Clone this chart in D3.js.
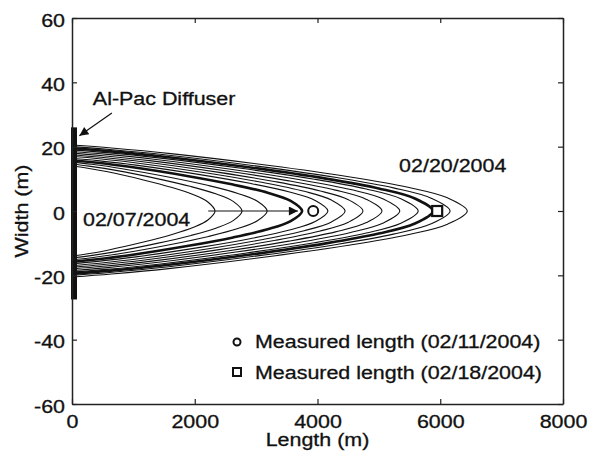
<!DOCTYPE html>
<html>
<head>
<meta charset="utf-8">
<script src="https://cdn.jsdelivr.net/npm/d3@7"></script>
<style>
  body { margin: 0; background: #fff; }
  text { font-family: "Liberation Sans", Arial, sans-serif; fill: #111; stroke: #111; stroke-width: 0.3px; }
</style>
</head>
<body>
<div class="chart"></div>
<script>
// plume outlines downstream of the diffuser, one per date

// tip length (m) of each contour, inner to outer
const tipLengths = [2330, 2770, 3180, 3750, 4170, 4450, 4740, 5050, 5340, 5640, 5880, 6160, 6440];
// half width (m) of each contour at the diffuser
const startWidths = [14.0, 14.6, 15.2, 15.8, 16.4, 17.0, 17.5, 18.0, 18.5, 19.0, 19.5, 20.0, 20.5];
// which contours are drawn heavy (02/07 and 02/18)
const boldCurves = [3, 10];

// shape of a contour: fraction of tip length vs fraction of start width
const profileX = [0, 0.1, 0.25, 0.5, 0.7, 0.85, 0.95, 1];
const profileW = [1, 0.955, 0.87, 0.69, 0.52, 0.36, 0.2, 0];

// measured plume lengths
const measuredDates = ['02/11/2004', '02/18/2004'];
const measuredLengths = [3930, 5950];

const xTicks = [0, 2000, 4000, 6000, 8000];
const yTicks = [-60, -40, -20, 0, 20, 40, 60];

const diffuserHalfWidth = 26;

const width = 589;
const height = 459;
const margin = {top: 18, right: 26, bottom: 55, left: 72};
const fontSize = 18;
const stretchFactor = 1.19;

const svg = d3.select('.chart')
  .append('svg')
  .attr('width', width)
  .attr('height', height);

const x = d3.scaleLinear().domain([0, 8000]).range([margin.left, width - margin.right]);
const y = d3.scaleLinear().domain([-60, 60]).range([height - margin.bottom, margin.top]);

const defs = svg.append('defs');
defs.append('marker')
  .attr('id', 'head')
  .attr('viewBox', '0 0 10 10')
  .attr('refX', 10)
  .attr('refY', 5)
  .attr('markerUnits', 'userSpaceOnUse')
  .attr('markerWidth', 12)
  .attr('markerHeight', 9)
  .attr('orient', 'auto')
  .append('path')
    .attr('d', 'M0,0 L10,5 L0,10 Z')
    .attr('fill', '#111');

// contours
const outline = d3.line()
  .x(d => x(d[0]))
  .y(d => y(d[1]))
  .curve(d3.curveCatmullRom.alpha(0.5));

const contours = tipLengths.map((L, i) => {
  const upper = profileX.map((f, j) => [f * L, profileW[j] * startWidths[i]]);
  const lower = upper.slice(0, -1).reverse().map(p => [p[0], -p[1]]);
  return {pts: upper.concat(lower), bold: boldCurves.includes(i)};
});

svg.append('g')
  .selectAll('path')
  .data(contours)
  .enter()
    .append('path')
    .attr('d', d => outline(d.pts))
    .attr('fill', 'none')
    .attr('stroke', '#111')
    .attr('stroke-width', d => d.bold ? 2.6 : 1.1);

// diffuser bar
svg.append('rect')
  .attr('x', x(0) - 1)
  .attr('y', y(diffuserHalfWidth))
  .attr('width', 6)
  .attr('height', y(-diffuserHalfWidth - 1.5) - y(diffuserHalfWidth))
  .attr('fill', '#111');

// measured markers
svg.append('circle')
  .attr('cx', x(measuredLengths[0]))
  .attr('cy', y(0))
  .attr('r', 5)
  .attr('fill', '#fff')
  .attr('stroke', '#111')
  .attr('stroke-width', 2);

svg.append('rect')
  .attr('x', x(measuredLengths[1]) - 5)
  .attr('y', y(0) - 5)
  .attr('width', 10)
  .attr('height', 10)
  .attr('fill', '#fff')
  .attr('stroke', '#111')
  .attr('stroke-width', 2.2);

// annotations
svg.append('line')
  .attr('x1', x(2220)).attr('y1', y(0))
  .attr('x2', x(3680)).attr('y2', y(0))
  .attr('stroke', '#111')
  .attr('stroke-width', 1)
  .attr('marker-end', 'url(#head)');

svg.append('line')
  .attr('x1', x(650)).attr('y1', y(30.5))
  .attr('x2', x(120)).attr('y2', y(23.4))
  .attr('stroke', '#111')
  .attr('stroke-width', 1.2)
  .attr('marker-end', 'url(#head)');

const notes = svg.append('g').attr('font-size', fontSize);
notes.append('text').attr('x', x(340)).attr('y', y(33)).text('Al-Pac Diffuser');
notes.append('text').attr('x', x(180)).attr('y', y(-4.6)).text('02/07/2004');
notes.append('text').attr('x', x(5330)).attr('y', y(12.1)).text('02/20/2004');

// legend
const legend = svg.append('g').attr('transform', 'translate(237,342)');
legend.append('circle')
  .attr('r', 3.5)
  .attr('fill', '#fff')
  .attr('stroke', '#111')
  .attr('stroke-width', 2);
legend.append('rect')
  .attr('x', -4).attr('y', 26)
  .attr('width', 8).attr('height', 8)
  .attr('fill', '#fff')
  .attr('stroke', '#111')
  .attr('stroke-width', 2);
legend.selectAll('text')
  .data(measuredDates)
  .enter()
    .append('text')
    .attr('x', 18)
    .attr('y', (d, i) => 6 + i * 31)
    .attr('font-size', fontSize)
    .text(d => `Measured length (${d})`);

// axes, ticks pointing inward on all four sides
function styleAxis(g) {
  g.select('.domain').attr('stroke', '#222').attr('stroke-width', 1.5);
  g.selectAll('.tick line').attr('stroke', '#222').attr('stroke-width', 1.2);
  g.selectAll('text')
    .attr('font-size', fontSize)
    .attr('font-family', '"Liberation Sans", Arial, sans-serif')
    .attr('fill', '#111');
}

const plain = d => String(d);

svg.append('g')
  .attr('transform', `translate(0,${y(-60)})`)
  .call(d3.axisBottom(x).tickValues(xTicks).tickFormat(plain)
    .tickSizeInner(-5).tickSizeOuter(0).tickPadding(11))
  .call(styleAxis);

svg.append('g')
  .attr('transform', `translate(${x(0)},0)`)
  .call(d3.axisLeft(y).tickValues(yTicks).tickFormat(plain)
    .tickSizeInner(-5).tickSizeOuter(0).tickPadding(7))
  .call(styleAxis)
  .selectAll('text').attr('dy', '0.45em');

svg.append('g')
  .attr('transform', `translate(0,${y(60)})`)
  .call(d3.axisTop(x).tickValues(xTicks).tickSizeInner(-5).tickSizeOuter(0).tickFormat(''))
  .call(styleAxis);

svg.append('g')
  .attr('transform', `translate(${x(8000)},0)`)
  .call(d3.axisRight(y).tickValues(yTicks).tickSizeInner(-5).tickSizeOuter(0).tickFormat(''))
  .call(styleAxis);

// axis titles
svg.append('text')
  .attr('x', (x(0) + x(8000)) / 2)
  .attr('y', 446)
  .attr('text-anchor', 'middle')
  .attr('font-size', fontSize)
  .text('Length (m)');

svg.append('text')
  .attr('transform', `translate(28,${y(0)}) rotate(-90)`)
  .attr('text-anchor', 'middle')
  .attr('font-size', fontSize)
  .text('Width (m)');

// the original lettering is wider than Arial, so stretch every label
svg.selectAll('text').each(function() {
  const len = this.getComputedTextLength();
  if (len > 0) {
    d3.select(this)
      .attr('textLength', len * stretchFactor)
      .attr('lengthAdjust', 'spacingAndGlyphs');
  }
});
</script>
</body>
</html>
